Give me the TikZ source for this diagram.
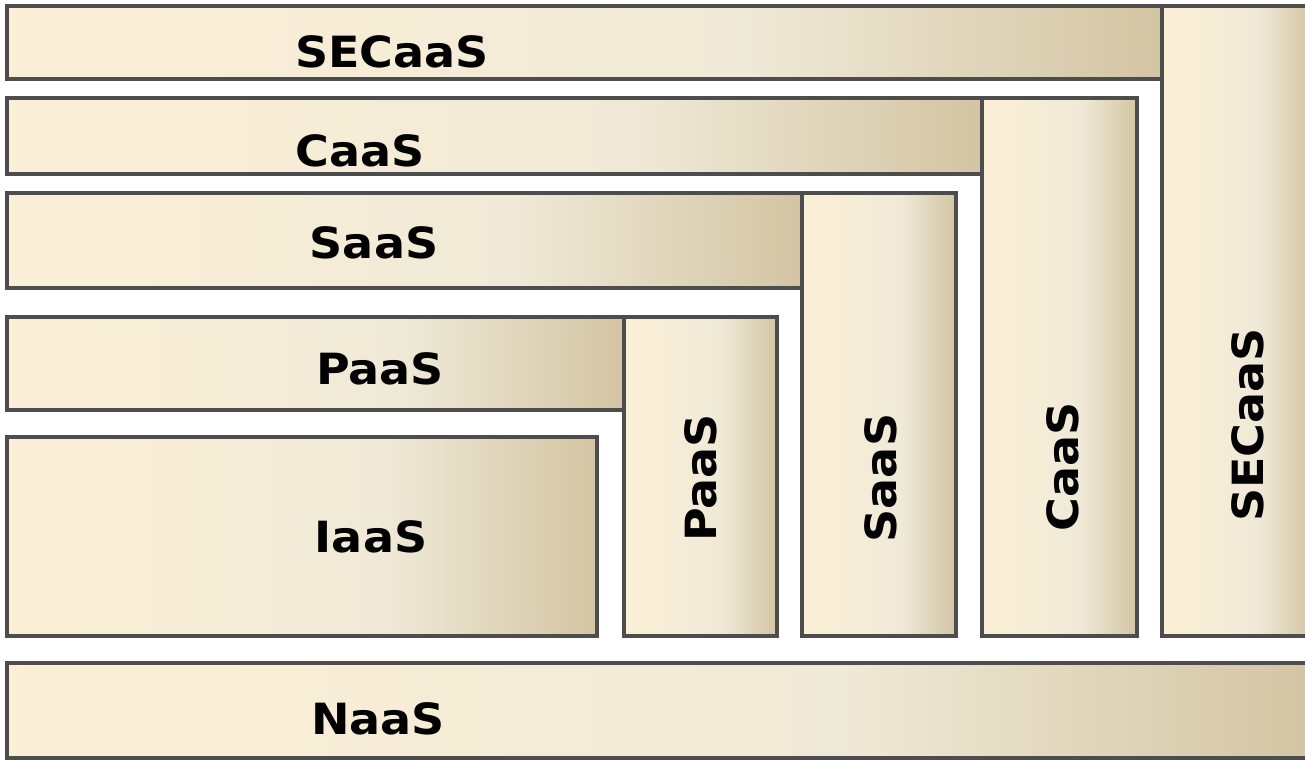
\documentclass[tikz,border=0pt]{standalone}
\usepackage{fontspec}
\setmainfont{DejaVu Sans}
\definecolor{cA}{HTML}{FDEFD5}
\definecolor{cB}{HTML}{F6EDD7}
\definecolor{cC}{HTML}{EFE9D7}
\definecolor{cD}{HTML}{D2C3A0}
\definecolor{edge}{HTML}{4D4D4D}
\pgfdeclarehorizontalshading{barshade}{100bp}{color(0bp)=(cA); color(20bp)=(cA); color(42bp)=(cB); color(57bp)=(cC); color(76bp)=(cD); color(100bp)=(cD)}
\newcommand{\wide}[1]{\scalebox{1.07}[1]{#1}}
\tikzset{
  bar/.style={shading=barshade, draw=edge, line width=4pt, line join=miter},
  lbl/.style={font=\fontsize{43}{50}\selectfont\bfseries, text=black, inner sep=0pt},
  vlbl/.style={lbl, rotate=90}
}
\begin{document}
\begin{tikzpicture}[x=1pt,y=-1pt]
\useasboundingbox (0,0) rectangle (1305,761);
% vertical bars
\path[bar] (1162,6) rectangle (1312,636);
\path[bar] (982,98) rectangle (1137,636);
\path[bar] (802,193) rectangle (956,636);
\path[bar] (624,317) rectangle (777,636);
% horizontal bars
\path[bar] (7,6) rectangle (1162,79);
\path[bar] (7,98) rectangle (982,174);
\path[bar] (7,193) rectangle (802,288);
\path[bar] (7,317) rectangle (624,410);
\path[bar] (7,437) rectangle (597,636);
\path[bar] (7,663) rectangle (1312,758);
% labels
\node[lbl] (secH) at (392,52) {\wide{SECaaS}};
\node[lbl] (caaH) at (360,151) {\wide{CaaS}};
\node[lbl] (saaH) at (374,243) {\wide{SaaS}};
\node[lbl] (paaH) at (380,369) {\wide{PaaS}};
\node[lbl] (iaa) at (371,537) {\wide{IaaS}};
\node[lbl] (naa) at (378,719) {\wide{NaaS}};
\node[vlbl] (paaV) at (701,478) {\wide{PaaS}};
\node[vlbl] (saaV) at (881,478) {\wide{SaaS}};
\node[vlbl] (caaV) at (1063,467) {\wide{CaaS}};
\node[vlbl] (secV) at (1248,425) {\wide{SECaaS}};
\end{tikzpicture}
\end{document}
